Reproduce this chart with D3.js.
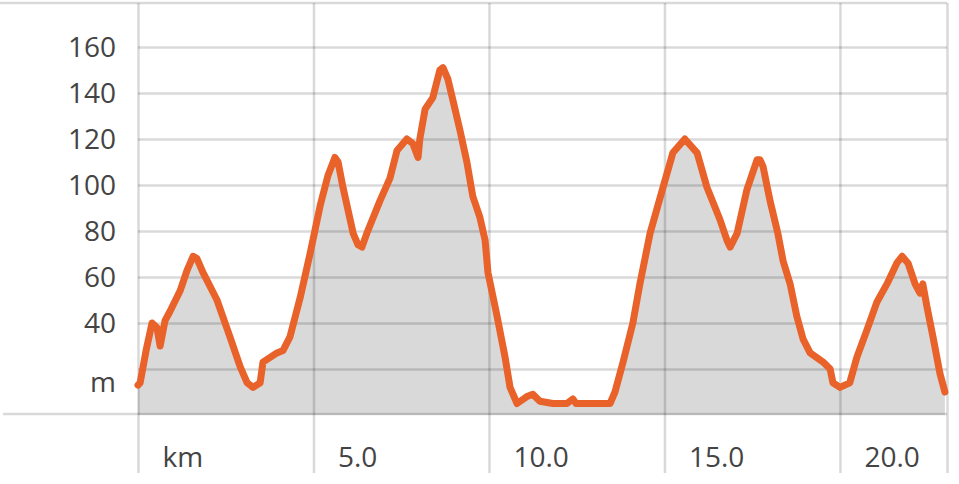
<!DOCTYPE html>
<html>
<head>
<meta charset="utf-8">
<script src="https://cdnjs.cloudflare.com/ajax/libs/d3/7.8.5/d3.min.js"></script>
<style>
  body { margin: 0; background: #fff; }
  svg text { font-family: "Open Sans", sans-serif; fill: #444; }
</style>
</head>
<body>
<svg width="959" height="484"></svg>
<script>
var svg = d3.select("svg"),
    width = +svg.attr("width"),
    height = +svg.attr("height");

// profile
var km = [0, 0.06, 0.23, 0.40, 0.54, 0.63, 0.77, 0.91, 1.20, 1.40, 1.57, 1.68, 1.85, 2.25, 2.62, 2.91,
  3.11, 3.28, 3.48, 3.56, 3.96, 4.13, 4.33, 4.62, 4.90, 5.19, 5.41, 5.61, 5.70, 5.84, 6.13, 6.27,
  6.38, 6.52, 6.89, 7.18, 7.38, 7.66, 7.83, 7.98, 8.03, 8.18, 8.40, 8.60, 8.69, 8.83, 8.97, 9.17,
  9.37, 9.54, 9.74, 9.89, 9.97, 10.23, 10.46, 10.60, 10.80, 11.08, 11.25, 11.45, 11.82, 12.22, 12.39,
  12.48, 12.59, 13.16, 13.45, 13.59, 13.82, 14.10, 14.30, 14.59, 14.96, 15.24, 15.58, 15.93, 16.21,
  16.58, 16.78, 16.87, 17.07, 17.35, 17.64, 17.72, 17.81, 18.01, 18.23, 18.38, 18.58, 18.77, 18.95,
  19.15, 19.52, 19.72, 19.80, 20.00, 20.28, 20.48, 20.77, 21.05, 21.34, 21.62, 21.77, 21.94, 22.14,
  22.28, 22.36, 22.48, 22.65, 22.85, 22.99];
var elev = [13, 14, 28, 40, 38, 30, 41, 45, 54, 63, 69, 68, 62, 50, 34, 21,
  14, 12, 14, 23, 27, 28, 34, 51, 70, 91, 104, 112, 110, 99, 79, 74,
  73, 79, 93, 103, 115, 120, 118, 112, 120, 133, 138, 150, 151, 146, 137, 124,
  110, 95, 86, 76, 62, 43, 25, 12, 5, 8, 9, 6, 5, 5, 7,
  5, 5, 5, 5, 10, 23, 40, 57, 79, 99, 114, 120, 114, 99,
  85, 76, 73, 79, 98, 111, 111, 108, 93, 79, 67, 57, 43, 33,
  27, 23, 20, 14, 12, 14, 25, 37, 49, 57, 66, 69, 66, 57,
  53, 57, 47, 34, 18, 10];

var yTicks = [20, 40, 60, 80, 100, 120, 140, 160];
var xTicks = [0, 5, 10, 15, 20];

var data = km.map(function(d, i) { return {km: d, m: elev[i]}; });

var x = d3.scaleLinear().domain([0, 23.05]).range([138, 947]);
var y = d3.scaleLinear().domain([0, 160]).range([415, 47]);

var gridColor = "rgba(0,0,0,0.15)";

// grey area under the profile
svg.append("path")
    .datum(data)
    .attr("fill", "#d9d9d9")
    .attr("d", d3.area()
        .x(function(d) { return x(d.km); })
        .y0(y(0))
        .y1(function(d) { return y(d.m); }));

// horizontal grid + y labels
var yAxis = svg.append("g")
    .attr("transform", "translate(138,0)")
    .call(d3.axisLeft(y)
        .tickValues(yTicks)
        .tickSize(-(947 - 138))
        .tickPadding(22)
        .tickFormat(function(d) { return d === 20 ? "m" : d; }));
yAxis.select(".domain").remove();
yAxis.selectAll(".tick line").attr("stroke", gridColor).attr("stroke-width", 2.5);
yAxis.selectAll(".tick text")
    .attr("font-size", 28)
    .attr("fill", "#444")
    .attr("dy", function(d) { return d === 20 ? "0.8em" : "0.35em"; });

// vertical grid + x labels
var xAxis = svg.append("g")
    .attr("transform", "translate(0,3)")
    .call(d3.axisBottom(x)
        .tickValues(xTicks.concat([23.05]))
        .tickSize(470)
        .tickPadding(0)
        .tickFormat(function(d) { return d === 0 ? "km" : (d > 23 ? "" : d.toFixed(1)); }));
xAxis.select(".domain").remove();
xAxis.selectAll(".tick line").attr("stroke", gridColor).attr("stroke-width", 2.5);
xAxis.selectAll(".tick text")
    .attr("font-size", 28)
    .attr("fill", "#444")
    .attr("text-anchor", "start")
    .attr("x", 24)
    .attr("y", 467 - 3)
    .attr("dy", 0);

// top and bottom frame lines
svg.append("line")
    .attr("x1", 0).attr("x2", x(23.05))
    .attr("y1", 3).attr("y2", 3)
    .attr("stroke", gridColor).attr("stroke-width", 2.5);
svg.append("line")
    .attr("x1", 3).attr("x2", x(23.05))
    .attr("y1", y(0) - 1).attr("y2", y(0) - 1)
    .attr("stroke", gridColor).attr("stroke-width", 2.5);

// elevation line
svg.append("path")
    .datum(data)
    .attr("fill", "none")
    .attr("stroke", "#e8622a")
    .attr("stroke-width", 7)
    .attr("stroke-linejoin", "round")
    .attr("stroke-linecap", "round")
    .attr("d", d3.line()
        .x(function(d) { return x(d.km); })
        .y(function(d) { return y(d.m); }));
</script>
</body>
</html>
